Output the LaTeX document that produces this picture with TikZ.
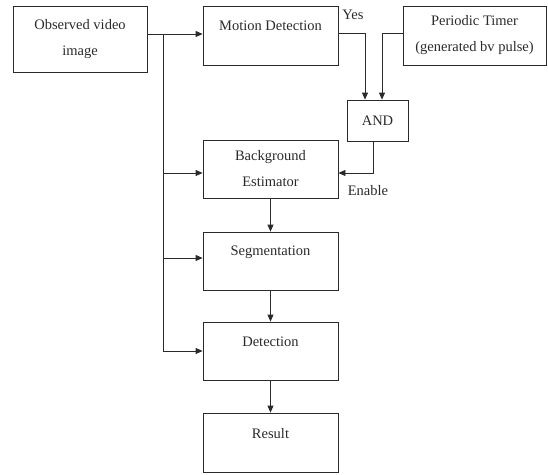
\documentclass[tikz,border=0pt]{standalone}
\usepackage{fontspec}
\setmainfont{Liberation Serif}
\usetikzlibrary{arrows.meta}
\definecolor{ink}{HTML}{2A2A2A}
\begin{document}
\begin{tikzpicture}[x=1pt,y=-1pt,
  every node/.style={font=\fontsize{14.5}{26}\selectfont, text=ink},
  box/.style={draw=ink, line width=0.8pt, rectangle, inner sep=0pt, align=center},
  conn/.style={draw=ink, line width=0.8pt},
  arr/.style={conn, -{Triangle[length=7pt,width=6pt]}}]
\useasboundingbox (0,0) rectangle (548,474);
\node[box, minimum width=134pt, minimum height=66pt] (obs) at (80,39) {Observed video\\image};
\node[box, minimum width=135pt, minimum height=59pt] (md) at (270.5,35.5) {};
\node (mdt) at ([yshift=10pt]md.center) {Motion Detection};
\node[box, minimum width=143pt, minimum height=59pt] (timer) at (474.5,35.5) {Periodic Timer\\(generated bv pulse)};
\node[box, minimum width=61pt, minimum height=41pt] (and) at (377.5,120.5) {AND};
\node[box, minimum width=135pt, minimum height=58pt] (bg) at (270.5,169) {Background\\Estimator};
\node[box, minimum width=135pt, minimum height=58pt] (seg) at (270.5,261) {};
\node (segt) at ([yshift=9pt]seg.center) {Segmentation};
\node[box, minimum width=135pt, minimum height=58pt] (det) at (270.5,351) {};
\node (dett) at ([yshift=9pt]det.center) {Detection};
\node[box, minimum width=135pt, minimum height=59pt] (res) at (270.5,442.5) {};
\node (rest) at ([yshift=9pt]res.center) {Result};
\node (yes) at (353,15) {Yes};
\node (en) at (368,191) {Enable};
% input to motion detection
\coordinate (o1) at (obs.east |- 0,34);
\coordinate (br) at (163,34);
\coordinate (bend) at (163,351);
\draw[arr] (o1) -- (md.west |- o1);
\draw[conn] (br) -- (bend);
\draw[arr] (163,173) -- (bg.west |- 0,173);
\draw[arr] (163,258) -- (seg.west |- 0,258);
\draw[arr] (bend) -- (det.west |- bend);
% to AND
\coordinate (y1) at (365,33);
\coordinate (t1) at (382,33);
\draw[arr] (md.east |- y1) -- (y1) -- (y1 |- and.north);
\draw[arr] (timer.west |- t1) -- (t1) -- (t1 |- and.north);
\coordinate (a1) at (373,173);
\draw[arr] (a1 |- and.south) -- (a1) -- (bg.east |- a1);
% chain
\draw[arr] (bg) -- (seg);
\draw[arr] (seg) -- (det);
\draw[arr] (det) -- (res);
\end{tikzpicture}
\end{document}
